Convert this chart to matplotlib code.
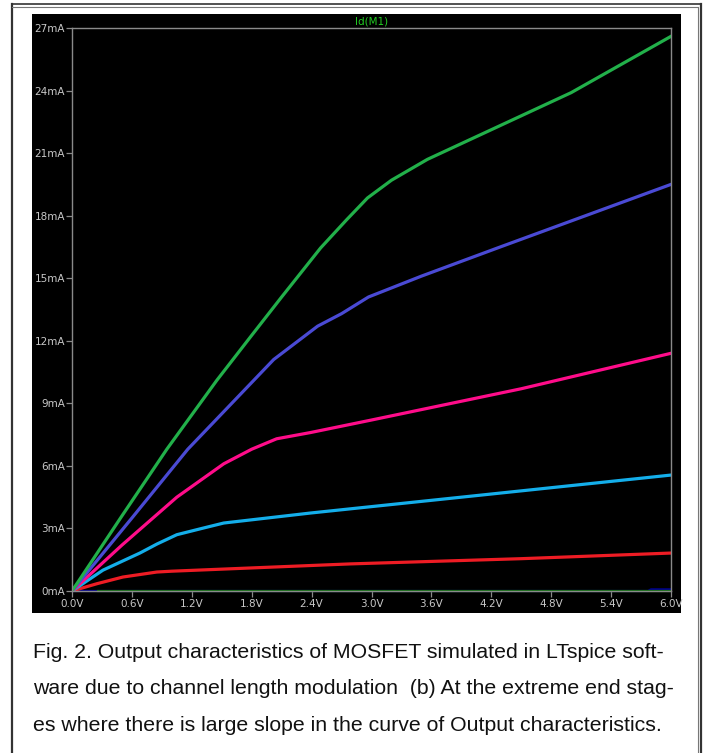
import matplotlib
matplotlib.use("Agg")
import matplotlib.pyplot as plt
from matplotlib.lines import Line2D
from matplotlib.patches import Rectangle

# ---- data ----
green_v = [0, 0.5, 0.95, 1.45, 1.79, 2.1, 2.49, 2.75, 2.96, 3.2, 3.56, 4.19, 5.0, 6.0]
green_i = [0, 3.6, 6.8, 10.1, 12.2, 14.1, 16.45, 17.8, 18.85, 19.7, 20.7, 22.1, 23.9, 26.6]

blue_v = [0, 0.6, 1.16, 1.5, 1.86, 2.02, 2.46, 2.7, 2.97, 3.5, 4.29, 6.0]
blue_i = [0, 3.5, 6.8, 8.5, 10.3, 11.1, 12.7, 13.3, 14.1, 15.1, 16.5, 19.5]

magenta_v = [0, 0.5, 1.05, 1.52, 1.8, 2.05, 2.39, 3.0, 4.5, 6.0]
magenta_i = [0, 2.2, 4.5, 6.1, 6.8, 7.3, 7.6, 8.2, 9.7, 11.4]

cyan_v = [0, 0.31, 0.68, 0.85, 1.05, 1.3, 1.52, 2.39, 4.0, 6.0]
cyan_i = [0, 1.0, 1.82, 2.25, 2.7, 3.0, 3.26, 3.74, 4.55, 5.56]

red_v = [0, 0.25, 0.51, 0.85, 1.0, 2.79, 4.5, 6.0]
red_i = [0, 0.35, 0.67, 0.91, 0.95, 1.3, 1.55, 1.82]

dblue_v = [0, 5.77, 5.8, 6.0]
dblue_i = [0, 0, 0.08, 0.08]

dgreen_v = [0.25, 6.0]
dgreen_i = [0, 0]

x_ticks = [0.0, 0.6, 1.2, 1.8, 2.4, 3.0, 3.6, 4.2, 4.8, 5.4, 6.0]
x_labels = ["0.0V", "0.6V", "1.2V", "1.8V", "2.4V", "3.0V", "3.6V", "4.2V", "4.8V", "5.4V", "6.0V"]
y_ticks = [0, 3, 6, 9, 12, 15, 18, 21, 24, 27]
y_labels = ["0mA", "3mA", "6mA", "9mA", "12mA", "15mA", "18mA", "21mA", "24mA", "27mA"]

title = "Id(M1)"
caption = ["Fig. 2. Output characteristics of MOSFET simulated in LTspice soft-",
           "ware due to channel length modulation  (b) At the extreme end stag-",
           "es where there is large slope in the curve of Output characteristics."]

W, H = 705, 753
fig = plt.figure(figsize=(W / 100, H / 100), dpi=100)
fig.patch.set_facecolor("white")

def fx(px):
    return px / W

def fy(py):
    return 1 - py / H

# black plot panel
fig.patches.append(Rectangle((fx(32), fy(613)), (681 - 32) / W, (613 - 14) / H,
                             transform=fig.transFigure, facecolor="black",
                             edgecolor="none", zorder=0))

# outer frame
fc = "#333333"
fig.lines.append(Line2D([fx(11.5), fx(11.5)], [fy(4), fy(760)], transform=fig.transFigure, color=fc, lw=1.6))
fig.lines.append(Line2D([fx(11.5), fx(700)], [fy(4), fy(4)], transform=fig.transFigure, color=fc, lw=1.2))
fig.lines.append(Line2D([fx(11.5), fx(697)], [fy(6.5), fy(6.5)], transform=fig.transFigure, color="#777777", lw=0.8))
fig.lines.append(Line2D([fx(700.5), fx(700.5)], [fy(4), fy(760)], transform=fig.transFigure, color=fc, lw=1.6))
fig.lines.append(Line2D([fx(697.5), fx(697.5)], [fy(6.5), fy(760)], transform=fig.transFigure, color="#777777", lw=0.8))

ax = fig.add_axes([fx(72), fy(591), (671 - 72) / W, (591 - 28) / H])
ax.set_zorder(5)
ax.patch.set_facecolor("black")

lw = 2.3
ax.plot(dblue_v, dblue_i, color="#00008c", lw=1.6, solid_capstyle="butt", clip_on=False)
ax.plot(dgreen_v, dgreen_i, color="#0a6a0a", lw=1.6, solid_capstyle="butt", clip_on=False)
ax.plot(red_v, red_i, color="#ee1c24", lw=lw)
ax.plot(cyan_v, cyan_i, color="#14aeea", lw=lw)
ax.plot(magenta_v, magenta_i, color="#ff0c8a", lw=lw)
ax.plot(blue_v, blue_i, color="#4a4ad4", lw=lw)
ax.plot(green_v, green_i, color="#22b04a", lw=lw)

ax.set_xlim(0, 6)
ax.set_ylim(0, 27)
ax.set_xticks(x_ticks)
ax.set_xticklabels(x_labels)
ax.set_yticks(y_ticks)
ax.set_yticklabels(y_labels)
for s in ax.spines.values():
    s.set_color("#8a8a8a")
    s.set_linewidth(1.0)
ax.tick_params(axis="both", colors="#8a8a8a", labelcolor="#c8c8c8",
               labelsize=7.5, length=4, width=0.9, direction="out", pad=1)
ax.tick_params(axis="x", pad=2)

fig.text(fx(372), fy(21), title, color="#22cc22", fontsize=7.5,
         ha="center", va="center", zorder=6)

for k, line in enumerate(caption):
    fig.text(fx(33), fy(652 + k * 36.7), line, fontsize=15.3, family="Liberation Sans",
             ha="left", va="center", color="#111111")

fig.savefig("out.png", dpi=100, facecolor="white")
